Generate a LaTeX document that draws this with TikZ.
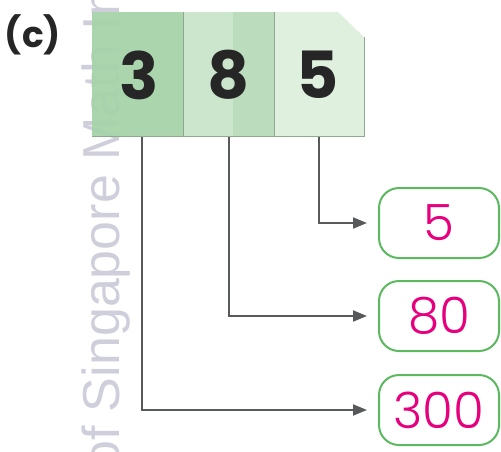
\documentclass[tikz,border=0pt]{standalone}
\usepackage{fontspec}
\setmainfont{Poppins}
\newfontfamily\wmfont{Liberation Sans}
\newfontfamily\lightfont{Poppins Light}
\usetikzlibrary{arrows.meta}
\definecolor{gA}{HTML}{A6D3A9}
\definecolor{gB}{HTML}{C6E3C8}
\definecolor{gBd}{HTML}{B4D8B6}
\definecolor{gC}{HTML}{DBEEDC}
\definecolor{edge}{HTML}{8FA892}
\definecolor{arr}{HTML}{58595B}
\definecolor{bgreen}{HTML}{5DB960}
\definecolor{pink}{HTML}{E6007E}
\definecolor{wm}{HTML}{CFCFDC}
\tikzset{
  digit/.style={font=\fontsize{65}{65}\selectfont\bfseries, text=black!85, inner sep=0pt},
  ansbox/.style={draw=bgreen, line width=2pt, rounded corners=20pt, minimum width=120pt, minimum height=70pt, text=pink, font=\lightfont\fontsize{50}{50}\selectfont, inner sep=0pt},
  conn/.style={draw=arr, line width=2pt, -{Triangle[length=14pt,width=11pt]}},
}
\begin{document}
\begin{tikzpicture}[x=1pt,y=-1pt]
\useasboundingbox (0,0) rectangle (501,451);
% watermark
\begin{scope}
\clip (0,0) rectangle (501,451);
\node[rotate=90, anchor=base west, text=wm, font=\wmfont\fontsize{52}{52}\selectfont, inner sep=0pt] (wmark) at (119,470) {of Singapore Math Inc};
\end{scope}
% cells
\fill[gA, opacity=0.95] (92,12) rectangle (183,136);
\fill[gB, opacity=0.9] (183,12) rectangle (233,136);
\fill[gBd, opacity=0.9] (233,12) rectangle (274,136);
\fill[gC, opacity=0.9] (274,12) -- (338,12) -- (364,37) -- (364,136) -- (274,136) -- cycle;
\draw[edge, line width=0.8pt] (183,12) -- (183,136);
\draw[edge, line width=0.8pt] (274,12) -- (274,136);
\draw[edge, line width=1pt] (92,136) -- (364,136) -- (364,37);
% digits
\node[digit] (d3) at (139,75) {3};
\node[digit] (d8) at (229,75) {8};
\node[digit] (d5) at (318,75) {5};
\coordinate (c3) at (142,137);
\coordinate (c8) at (229,137);
\coordinate (c5) at (319,137);
% label
\node[font=\fontsize{36}{36}\selectfont\bfseries, text=black!85, inner sep=0pt] (lab) at (33,35) {(c)};
% answer boxes
\node[ansbox] (b5) at (439,223) {5};
\node[ansbox] (b80) at (439,316) {80};
\node[ansbox] (b300) at (439,410) {300};
% connectors
\draw[conn] (c5) |- ([xshift=-11pt]b5.west);
\draw[conn] (c8) |- ([xshift=-11pt]b80.west);
\draw[conn] (c3) |- ([xshift=-11pt]b300.west);
\end{tikzpicture}
\end{document}
